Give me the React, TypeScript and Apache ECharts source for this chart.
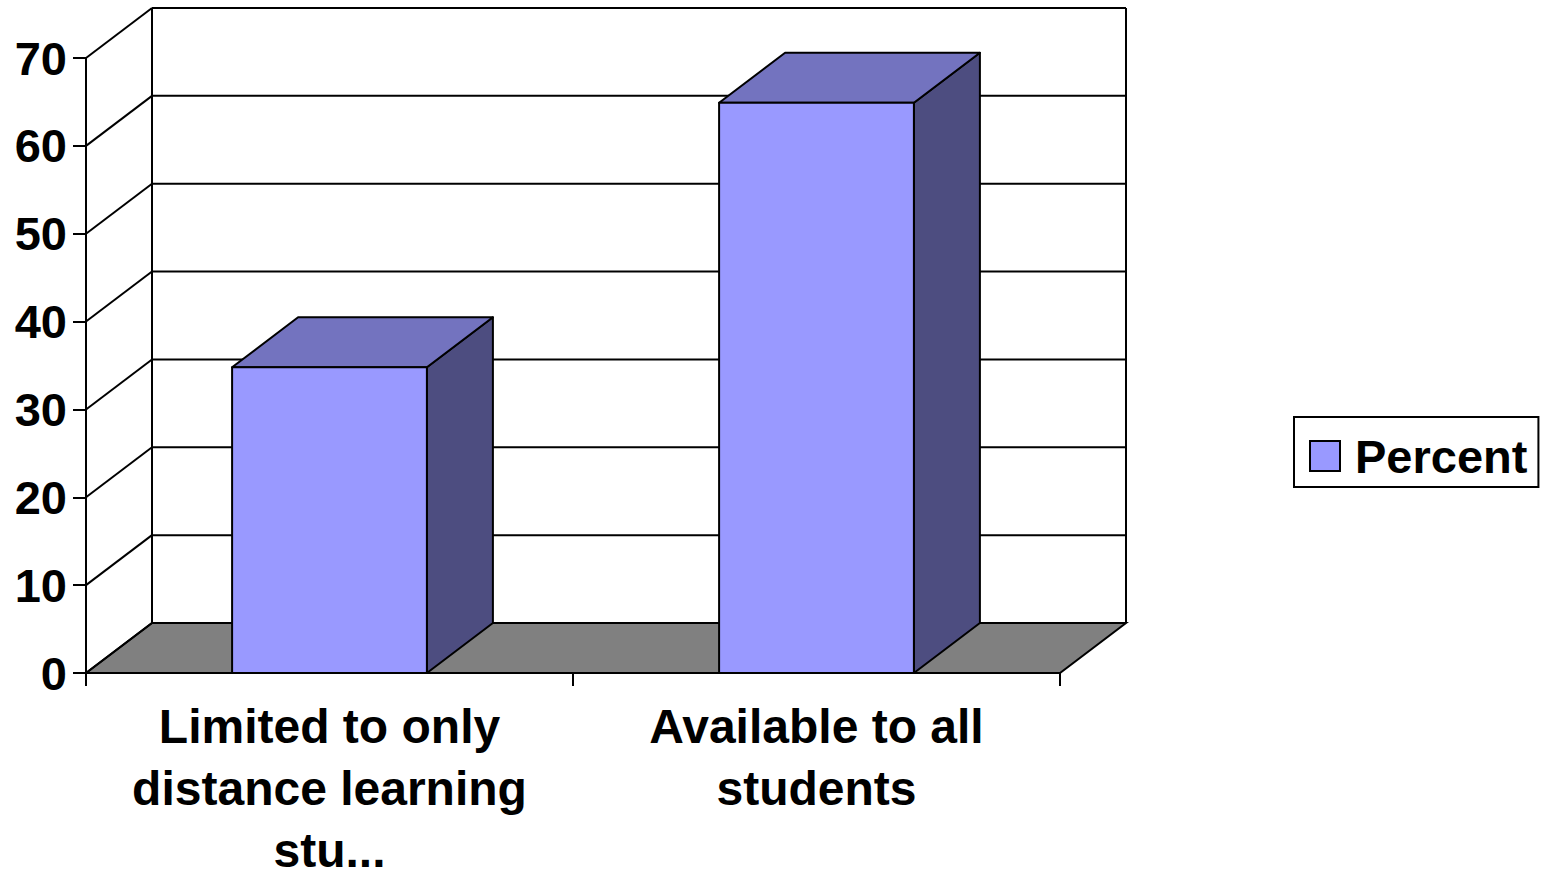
import React, { useEffect, useRef } from "react";
import * as echarts from "echarts";

const categories = ["Limited to only\ndistance learning\nstu...", "Available to all\nstudents"];
const percent = [34.8, 64.9];
const yTicks = [0, 10, 20, 30, 40, 50, 60, 70];
const seriesName = "Percent";

const DX = 66;
const DY = -50;
const FONT = "Liberation Sans";
const ink = { stroke: "#000", lineWidth: 2, fill: "none" };

export default function App() {
  const ref = useRef<HTMLDivElement>(null);
  useEffect(() => {
    const chart = echarts.init(ref.current!, null, { renderer: "svg" });
    chart.setOption({
      animation: false,
      backgroundColor: "#fff",
      grid: { left: 86, top: 58, width: 974, height: 615, containLabel: false, outerBoundsMode: "none" },
      legend: {
        data: [seriesName],
        left: 1294,
        top: 417,
        orient: "horizontal",
        padding: [15, 11, 7, 15],
        borderColor: "#000",
        borderWidth: 2,
        backgroundColor: "#fff",
        itemWidth: 30,
        itemHeight: 30,
        itemGap: 0,
        icon: "rect",
        selectedMode: false,
        textStyle: { fontFamily: FONT, fontWeight: "bold", fontSize: 47, color: "#000", padding: [0, 0, 0, 10], lineHeight: 48 },
      },
      xAxis: {
        type: "category",
        data: categories,
        z: 5,
        axisLine: { lineStyle: { color: "#000", width: 2 } },
        axisTick: { show: true, length: 13, alignWithLabel: false, lineStyle: { color: "#000", width: 2 } },
        axisLabel: { interval: 0, fontFamily: FONT, fontWeight: "bold", fontSize: 48, color: "#000", lineHeight: 62, margin: 22 },
        splitLine: { show: false },
      },
      yAxis: {
        type: "value",
        min: 0,
        max: 70,
        interval: 10,
        z: 5,
        axisLine: { show: true, lineStyle: { color: "#000", width: 2 } },
        axisTick: { show: true, length: 13, lineStyle: { color: "#000", width: 2 } },
        axisLabel: { fontFamily: FONT, fontWeight: "bold", fontSize: 47, color: "#000", margin: 19 },
        splitLine: { show: false },
      },
      series: [
        {
          name: "wall",
          type: "custom",
          coordinateSystem: "cartesian2d",
          clip: false,
          silent: true,
          z: 1,
          data: yTicks.map((v) => [0, v]),
          encode: { x: 0, y: 1 },
          renderItem: (_p: any, api: any) => {
            const v = api.value(1);
            const sizeX = api.size([1, 0])[0];
            const left = api.coord([0, v])[0] - sizeX / 2;
            const right = left + sizeX * categories.length;
            const y = api.coord([0, v])[1];
            const children: any[] = [
              { type: "line", shape: { x1: left, y1: y, x2: left + DX, y2: y + DY }, style: ink },
              { type: "line", shape: { x1: left + DX, y1: y + DY, x2: right + DX, y2: y + DY }, style: ink },
            ];
            if (v === yTicks[0]) {
              const topY = api.coord([0, yTicks[yTicks.length - 1]])[1] + DY;
              children.unshift({
                type: "polygon",
                shape: { points: [[left, y], [left + DX, y + DY], [right + DX, y + DY], [right, y]] },
                style: { fill: "#808080", stroke: "#000", lineWidth: 2 },
              });
              children.push(
                { type: "line", shape: { x1: left + DX, y1: y + DY, x2: left + DX, y2: topY }, style: ink },
                { type: "line", shape: { x1: right + DX, y1: y + DY, x2: right + DX, y2: topY }, style: ink },
              );
            }
            return { type: "group", children };
          },
        },
        {
          name: seriesName,
          type: "custom",
          coordinateSystem: "cartesian2d",
          clip: false,
          z: 3,
          itemStyle: { color: "#9999FF", borderColor: "#000", borderWidth: 2 },
          data: percent.map((v, i) => [i, v]),
          encode: { x: 0, y: 1 },
          renderItem: (_p: any, api: any) => {
            const i = api.value(0);
            const [cx, top] = api.coord([i, api.value(1)]);
            const bottom = api.coord([i, 0])[1];
            const w = api.size([1, 0])[0] * 0.4;
            const x0 = cx - w / 2;
            const x1 = cx + w / 2;
            const edge = { stroke: "#000", lineWidth: 2, lineJoin: "round" };
            return {
              type: "group",
              children: [
                {
                  type: "polygon",
                  shape: { points: [[x1, top], [x1 + DX, top + DY], [x1 + DX, bottom + DY], [x1, bottom]] },
                  style: { fill: "#4D4D80", ...edge },
                },
                {
                  type: "polygon",
                  shape: { points: [[x0, top], [x0 + DX, top + DY], [x1 + DX, top + DY], [x1, top]] },
                  style: { fill: "#7373BF", ...edge },
                },
                {
                  type: "rect",
                  shape: { x: x0, y: top, width: w, height: bottom - top },
                  style: { fill: "#9999FF", ...edge },
                },
              ],
            };
          },
        },
      ],
    });
    return () => chart.dispose();
  }, []);
  return <div ref={ref} style={{ position: "fixed", left: 0, top: 0, width: 1545, height: 871 }} />;
}
